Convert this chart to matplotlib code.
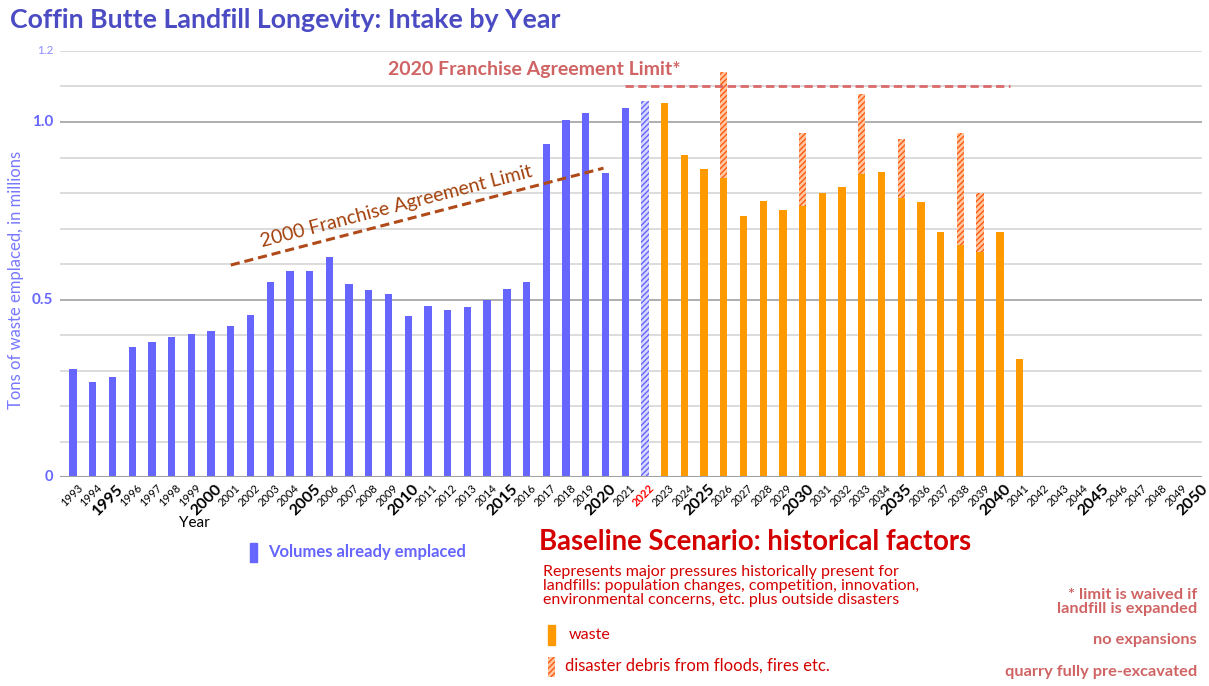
import numpy as np
import matplotlib.pyplot as plt
from matplotlib.patches import Rectangle

plt.rcParams['font.family'] = ['Lato', 'DejaVu Sans']
plt.rcParams['hatch.linewidth'] = 1.0

# historical intake, millions of tons
hist_years = list(range(1993, 2022))
hist_vals = [0.305, 0.268, 0.281, 0.366, 0.381, 0.395, 0.402, 0.410, 0.424, 0.455,
             0.550, 0.581, 0.579, 0.619, 0.543, 0.528, 0.515, 0.454, 0.482, 0.470,
             0.478, 0.500, 0.530, 0.550, 0.937, 1.005, 1.025, 0.857, 1.040]

# current year estimate
cur_year = 2022
cur_val = 1.058

# projected waste
proj_years = list(range(2023, 2042))
proj_vals = [1.054, 0.908, 0.869, 0.843, 0.736, 0.777, 0.751, 0.764, 0.800, 0.816,
             0.854, 0.860, 0.787, 0.775, 0.689, 0.654, 0.635, 0.689, 0.331]

# disaster debris on top of waste
debris_years = [2026, 2030, 2033, 2035, 2038, 2039]
debris_vals = [0.297, 0.204, 0.224, 0.166, 0.314, 0.166]

limit2000 = ([2001, 2019.9], [0.597, 0.870])
limit2020 = ([2021, 2040.5], [1.100, 1.100])

all_years = list(range(1993, 2051))

blue = '#6666FF'
orange = '#FF9900'
deb_edge = '#FF5A14'
pink = '#D06464'

fig = plt.figure(figsize=(12.09, 6.86), dpi=100)
ax = fig.add_axes([60 / 1209, 1 - 477 / 686, 1142 / 1209, 426 / 686])

w = 0.37
ax.bar(hist_years, hist_vals, width=w, color=blue, zorder=3)
ax.bar([cur_year], [cur_val], width=w, facecolor='#D8D8FF', edgecolor=blue,
       hatch='//////', linewidth=0, zorder=3)
ax.bar(proj_years, proj_vals, width=w, color=orange, zorder=3)
base = [proj_vals[proj_years.index(y)] for y in debris_years]
ax.bar(debris_years, debris_vals, bottom=base, width=w, facecolor='#FFC8A0',
       edgecolor=deb_edge, hatch='//////', linewidth=0, zorder=3)

ax.plot(*limit2000, ls=(0, (3, 1.6)), color='#B04A18', lw=2.2, zorder=4)
ax.plot(*limit2020, ls=(0, (3, 1.6)), color='#DA6A6A', lw=2.0, zorder=4)
ax.text(2009.4, 0.761, '2000 Franchise Agreement Limit', rotation=14.6,
        rotation_mode='anchor', ha='center', va='center', color='#A3400C', fontsize=14)
ax.text(2016.4, 1.149, '2020 Franchise Agreement Limit*', ha='center', va='center',
        color=pink, fontsize=14, fontweight='bold')

ax.set_xlim(1992.34, 2050.25)
ax.set_ylim(0, 1.2)

yt = [round(v, 1) for v in np.arange(0, 1.21, 0.1)]
ax.set_yticks(yt)
ax.set_yticklabels([])
ax.tick_params(axis='both', length=0)
for v in yt:
    if v in (0.5, 1.0):
        ax.axhline(v, color='#A8A8A8', lw=1.3, zorder=1)
    elif v > 0:
        ax.axhline(v, color='#D9D9D9', lw=1.3, zorder=1)
ax.axhline(0, color='#A0A0A0', lw=1.5, zorder=5)
for v, lab, fs, c, fw in [(0, '0', 10.5, blue, 'bold'), (0.5, '0.5', 11, blue, 'bold'),
                          (1.0, '1.0', 11, blue, 'bold'), (1.2, '1.2', 8.5, '#8C8CFF', 'normal')]:
    ax.text(-0.0061, v, lab, transform=ax.get_yaxis_transform(), ha='right', va='center',
            fontsize=fs, color=c, fontweight=fw)
for s in ax.spines.values():
    s.set_visible(False)

ax.set_xticks(all_years)
ax.set_xticklabels([])
for y in all_years:
    bold = y % 5 == 0
    col = '#FF0000' if y == 2022 else 'black'
    ax.text(y + 0.2, -0.012, str(y), transform=ax.get_xaxis_transform(),
            rotation=45, rotation_mode='anchor', ha='right', va='top',
            fontsize=11.5 if bold else 8, color=col,
            fontweight='bold' if (bold or y == 2022) else 'normal')

fig.text(16 / 1209, 1 - 280 / 686, 'Tons of waste emplaced, in millions', rotation=90,
         ha='center', va='center', color='#7878FF', fontsize=12)
fig.text(10 / 1209, 1 - 20 / 686, 'Coffin Butte Landfill Longevity: Intake by Year', ha='left',
         va='center', color='#4B4BC3', fontsize=19.3, fontweight='bold')
fig.text(194 / 1209, 1 - 523 / 686, 'Year', ha='center', va='center', fontsize=11, color='black')

# legend: historical
fig.patches.append(Rectangle((250 / 1209, 1 - 562 / 686), 7 / 1209, 19 / 686,
                             transform=fig.transFigure, color=blue))
fig.text(268 / 1209, 1 - 552 / 686, 'Volumes already emplaced', ha='left', va='center',
         color=blue, fontsize=12, fontweight='bold')

red = '#D40000'
fig.text(539 / 1209, 1 - 542 / 686, 'Baseline Scenario: historical factors', ha='left',
         va='center', color=red, fontsize=19.8, fontweight='bold')
fig.text(543 / 1209, 1 - 586 / 686,
         'Represents major pressures historically present for\n'
         'landfills: population changes, competition, innovation,\n'
         'environmental concerns, etc. plus outside disasters',
         ha='left', va='center', color=red, fontsize=11.5, linespacing=1.0)
fig.patches.append(Rectangle((548 / 1209, 1 - 645 / 686), 7 / 1209, 20 / 686,
                             transform=fig.transFigure, color=orange))
fig.text(569 / 1209, 1 - 635 / 686, 'waste', ha='left', va='center', color=red, fontsize=11.5)
fig.patches.append(Rectangle((548 / 1209, 1 - 677 / 686), 7 / 1209, 20 / 686,
                             transform=fig.transFigure, facecolor='#FFC8A0',
                             edgecolor=deb_edge, hatch='//////', linewidth=0))
fig.text(565 / 1209, 1 - 666 / 686, 'disaster debris from floods, fires etc.', ha='left',
         va='center', color=red, fontsize=12)

fig.text(1197 / 1209, 1 - 602 / 686, '* limit is waived if\nlandfill is expanded',
         ha='right', va='center', color=pink, fontsize=11.8, fontweight='bold', linespacing=1.05)
fig.text(1197 / 1209, 1 - 640 / 686, 'no expansions', ha='right', va='center',
         color=pink, fontsize=11.8, fontweight='bold')
fig.text(1197 / 1209, 1 - 672 / 686, 'quarry fully pre-excavated', ha='right', va='center',
         color=pink, fontsize=11.8, fontweight='bold')

fig.savefig('out.png', dpi=100)
